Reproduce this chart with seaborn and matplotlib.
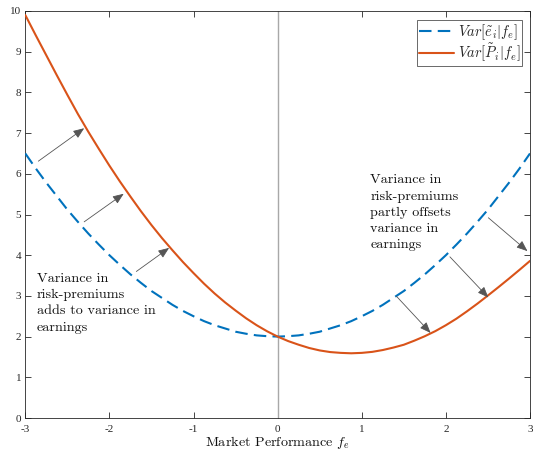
import matplotlib
matplotlib.use("Agg")
import matplotlib.pyplot as plt
import seaborn as sns
import pandas as pd

# ---- data ----
x_vals = [-3.0, -2.875, -2.75, -2.625, -2.5, -2.375, -2.25, -2.125, -2.0, -1.875,
          -1.75, -1.625, -1.5, -1.375, -1.25, -1.125, -1.0, -0.875, -0.75, -0.625,
          -0.5, -0.375, -0.25, -0.125, 0.0, 0.125, 0.25, 0.375, 0.5, 0.625,
          0.75, 0.875, 1.0, 1.125, 1.25, 1.375, 1.5, 1.625, 1.75, 1.875,
          2.0, 2.125, 2.25, 2.375, 2.5, 2.625, 2.75, 2.875, 3.0]
var_e = [6.50, 6.13, 5.78, 5.45, 5.12, 4.82, 4.53, 4.26, 4.00, 3.76,
         3.53, 3.32, 3.12, 2.95, 2.78, 2.63, 2.50, 2.38, 2.28, 2.20,
         2.12, 2.07, 2.03, 2.01, 2.00, 2.01, 2.03, 2.07, 2.12, 2.20,
         2.28, 2.38, 2.50, 2.63, 2.78, 2.95, 3.12, 3.32, 3.53, 3.76,
         4.00, 4.26, 4.53, 4.82, 5.12, 5.45, 5.78, 6.13, 6.50]
var_p = [9.90, 9.40, 8.91, 8.42, 7.94, 7.47, 7.03, 6.61, 6.20, 5.81,
         5.44, 5.08, 4.74, 4.42, 4.12, 3.83, 3.56, 3.30, 3.06, 2.84,
         2.64, 2.45, 2.28, 2.13, 2.00, 1.89, 1.80, 1.72, 1.66, 1.62,
         1.60, 1.59, 1.60, 1.625, 1.67, 1.73, 1.80, 1.90, 2.01, 2.135,
         2.28, 2.44, 2.62, 2.81, 3.01, 3.215, 3.425, 3.64, 3.86]
series_labels = [r"$Var[\tilde{e}_i|f_e]$", r"$Var[\tilde{P}_i|f_e]$"]
x_ticks = [-3, -2, -1, 0, 1, 2, 3]
y_ticks = list(range(0, 11))
text_left = "Variance in\nrisk-premiums\nadds to variance in\nearnings"
text_right = "Variance in\nrisk-premiums\npartly offsets\nvariance in\nearnings"
arrows_left = [((-2.845, 6.31), (-2.30, 7.12)),
               ((-2.30, 4.82), (-1.83, 5.51)),
               ((-1.68, 3.60), (-1.29, 4.18))]
arrows_right = [((2.505, 4.92), (2.97, 4.10)),
                ((2.048, 3.96), (2.505, 2.96)),
                ((1.413, 2.99), (1.818, 2.09))]

sns.set_theme(style="ticks")
plt.rcParams["font.family"] = ["Liberation Serif", "DejaVu Serif"]
plt.rcParams["mathtext.fontset"] = "cm"
plt.rcParams["axes.unicode_minus"] = False

df = pd.DataFrame({
    "x": x_vals * 2,
    "y": var_e + var_p,
    "series": [series_labels[0]] * len(x_vals) + [series_labels[1]] * len(x_vals),
})

fig = plt.figure(figsize=(5.33, 4.53), dpi=100)
ax = fig.add_axes([25.3 / 533, 1 - 418 / 453, (530 - 25.3) / 533, (418 - 11) / 453])

ax.axvline(0, color="#a8a8a8", lw=1.0, zorder=1)

sns.lineplot(data=df, x="x", y="y", hue="series", style="series",
             palette=["#0072BD", "#D95319"],
             dashes=[(6, 3), ""], linewidth=1.5, ax=ax, legend=True, zorder=3)

for tail, head in arrows_left + arrows_right:
    ax.annotate("", xy=head, xytext=tail,
                arrowprops=dict(arrowstyle="-|>,head_length=0.55,head_width=0.22",
                                color="#555555", lw=0.6, shrinkA=0, shrinkB=0),
                zorder=4)

cm_font = dict(family="cmr10", fontsize=10.2, color="#111111")
ax.text(-2.86, 3.57, text_left, ha="left", va="top", linespacing=1.45, **cm_font)
ax.text(1.10, 5.99, text_right, ha="left", va="top", linespacing=1.45, **cm_font)

ax.set_xlim(-3, 3)
ax.set_ylim(0, 10)
ax.set_xticks(x_ticks)
ax.set_yticks(y_ticks)
ax.set_xticklabels([str(t) for t in x_ticks])
ax.set_yticklabels([str(t) for t in y_ticks])
ax.tick_params(direction="in", length=4, width=0.6, colors="#262626",
               labelsize=8, top=True, right=True, pad=3)
ax.tick_params(axis="x", pad=5)
for s in ax.spines.values():
    s.set_visible(True)
    s.set_color("#262626")
    s.set_linewidth(0.6)

ax.set_xlabel(r"Market Performance $f_e$", family="cmr10", fontsize=10.2,
              color="#111111", labelpad=0)
ax.set_ylabel("")

leg = ax.legend(loc="upper right", bbox_to_anchor=(0.985, 0.977), borderaxespad=0,
                fontsize=10.5, frameon=True, fancybox=False, handlelength=2.4,
                handletextpad=0.3, borderpad=0.12, labelspacing=0.0)
leg.get_frame().set_edgecolor("#262626")
leg.get_frame().set_linewidth(0.6)

fig.savefig("out.png", dpi=100)
